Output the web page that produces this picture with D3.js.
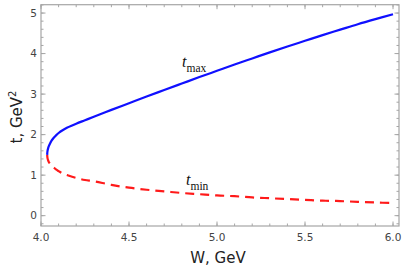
<!DOCTYPE html>
<html>
<head>
<meta charset="utf-8">
<script src="https://cdn.jsdelivr.net/npm/d3@7"></script>
<style>
  body { margin: 0; background: #fff; }
  svg { display: block; }
</style>
</head>
<body>
<svg id="chart" width="405" height="273"></svg>
<script>
// data
const wValues = [4.035, 4.037, 4.04, 4.045, 4.05, 4.06, 4.07, 4.085, 4.1, 4.125, 4.15, 4.2, 4.25, 4.3,
  4.4, 4.5, 4.6, 4.7, 4.8, 4.9, 5.0, 5.1, 5.2, 5.3, 5.4, 5.5, 5.6, 5.7, 5.8, 5.9, 6.0];
const tMax = [1.50, 1.60, 1.655, 1.72, 1.77, 1.85, 1.91, 1.98, 2.04, 2.115, 2.175, 2.27, 2.355, 2.44,
  2.61, 2.775, 2.94, 3.10, 3.26, 3.42, 3.575, 3.73, 3.88, 4.03, 4.175, 4.315, 4.455, 4.59, 4.725, 4.85, 4.97];
const tMin = [1.50, 1.42, 1.37, 1.32, 1.29, 1.24, 1.20, 1.14, 1.10, 1.04, 1.00, 0.93, 0.88, 0.85,
  0.76, 0.69, 0.64, 0.60, 0.56, 0.53, 0.50, 0.48, 0.45, 0.43, 0.41, 0.39, 0.37, 0.36, 0.34, 0.325, 0.31];
const xTicks = [4.0, 4.5, 5.0, 5.5, 6.0];
const yTicks = [0, 1, 2, 3, 4, 5];
const xMinor = d3.range(40, 61).map(d => d / 10);
const yMinor = d3.range(-1, 27).map(d => d / 5);

const fLeft = 41, fRight = 399, fTop = 4.7, fBottom = 226;

const svg = d3.select('#chart');
const x = d3.scaleLinear().domain([4.0, 6.034]).range([fLeft, fRight]);
const y = d3.scaleLinear().domain([-0.255, 5.206]).range([fBottom, fTop]);

const frameColor = '#a6a6a6';
const g = svg.append('g');

// ticks on all four sides, pointing inward
function xticks(vals, len) {
  vals.forEach(v => {
    const px = x(v);
    if (px >= fLeft - 0.5 && px <= fRight + 0.5) {
      g.append('line').attr('x1', px).attr('x2', px).attr('y1', fBottom).attr('y2', fBottom - len)
        .attr('stroke', frameColor).attr('stroke-width', 1);
      g.append('line').attr('x1', px).attr('x2', px).attr('y1', fTop).attr('y2', fTop + len)
        .attr('stroke', frameColor).attr('stroke-width', 1);
    }
  });
}
function yticks(vals, len) {
  vals.forEach(v => {
    const py = y(v);
    if (py >= fTop - 0.5 && py <= fBottom + 0.5) {
      g.append('line').attr('x1', fLeft).attr('x2', fLeft + len).attr('y1', py).attr('y2', py)
        .attr('stroke', frameColor).attr('stroke-width', 1);
      g.append('line').attr('x1', fRight).attr('x2', fRight - len).attr('y1', py).attr('y2', py)
        .attr('stroke', frameColor).attr('stroke-width', 1);
    }
  });
}
xticks(xMinor, 2.5);
xticks(xTicks, 4.5);
yticks(yMinor, 2.5);
yticks(yTicks, 4.5);

g.append('rect')
  .attr('x', fLeft).attr('y', fTop)
  .attr('width', fRight - fLeft).attr('height', fBottom - fTop)
  .attr('fill', 'none').attr('stroke', frameColor).attr('stroke-width', 1.2);

// tick labels
g.selectAll('.xlab').data(xTicks).enter().append('text')
  .attr('x', d => x(d)).attr('y', 241)
  .attr('text-anchor', 'middle')
  .attr('font-family', 'DejaVu Sans').attr('font-size', 10.5).attr('fill', '#444')
  .text(d => d.toFixed(1));

g.selectAll('.ylab').data(yTicks).enter().append('text')
  .attr('x', 37).attr('y', d => y(d) + 3.8)
  .attr('text-anchor', 'end')
  .attr('font-family', 'DejaVu Sans').attr('font-size', 10.5).attr('fill', '#444')
  .text(d => d);

// axis titles
svg.append('text')
  .attr('x', 218).attr('y', 263)
  .attr('text-anchor', 'middle')
  .attr('font-family', 'DejaVu Sans').attr('font-size', 15).attr('fill', '#222')
  .text('W, GeV');

const yt = svg.append('text')
  .attr('transform', 'translate(22,117) rotate(-90)')
  .attr('text-anchor', 'middle')
  .attr('font-family', 'DejaVu Sans').attr('font-size', 15).attr('fill', '#222');
yt.append('tspan').text('t, GeV');
yt.append('tspan').attr('font-size', 10).attr('dy', -6).text('2');

// curves
const line = d3.line().x(d => x(d[0])).y(d => y(d[1])).curve(d3.curveCatmullRom.alpha(0.5));
const maxPts = wValues.map((w, i) => [w, tMax[i]]);
const minPts = wValues.map((w, i) => [w, tMin[i]]);

svg.append('path').datum(minPts)
  .attr('d', line).attr('fill', 'none')
  .attr('stroke', '#ff1a1a').attr('stroke-width', 2.2)
  .attr('stroke-dasharray', '9,6');

svg.append('path').datum(maxPts)
  .attr('d', line).attr('fill', 'none')
  .attr('stroke', '#1010ff').attr('stroke-width', 2.2);

// curve labels
function curveLabel(px, py, sub) {
  const t = svg.append('text').attr('x', px).attr('y', py)
    .attr('font-family', 'Liberation Serif').attr('fill', '#111');
  t.append('tspan').attr('font-style', 'italic').attr('font-size', 16).text('t');
  t.append('tspan').attr('font-size', 11.5).attr('dy', 4.5).text(sub);
}
curveLabel(182, 67, 'max');
curveLabel(186, 185, 'min');
</script>
</body>
</html>
